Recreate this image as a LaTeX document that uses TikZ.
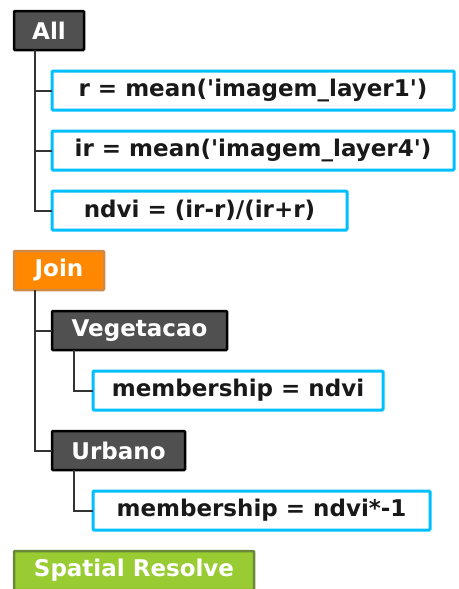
\documentclass[tikz,border=0pt]{standalone}
\usepackage{fontspec}
\setmainfont{DejaVu Sans}
\usetikzlibrary{calc,positioning}
\definecolor{boxgray}{HTML}{505050}
\definecolor{calcblue}{HTML}{00BFFF}
\definecolor{joinorange}{HTML}{FF8800}
\definecolor{joinedge}{HTML}{D08A48}
\definecolor{resolvegreen}{HTML}{99CC33}
\definecolor{resolveedge}{HTML}{6A8838}

\begin{document}
\begin{tikzpicture}[
    x=1pt, y=1pt,
    every node/.style={font=\fontsize{23}{26}\selectfont\bfseries,
        inner xsep=12pt, inner ysep=0pt, minimum height=39pt,
        outer sep=0pt, rounded corners=1pt, anchor=north west},
    groupbox/.style={draw=black, line width=2.5pt, fill=boxgray, text=white},
    calcbox/.style={draw=calcblue, line width=3pt, fill=white, text=black!90},
    joinbox/.style={draw=joinedge, line width=2.5pt, fill=joinorange, text=white},
    resolvebox/.style={draw=resolveedge, line width=2.5pt, fill=resolvegreen, text=white},
    link/.style={draw=black!80, line width=2pt, rounded corners=0pt},
 ]
    \clip (0,0) rectangle (458,-589);

    \node[groupbox, minimum width=70pt] (all) at (14,-11) {All};
    \node[calcbox, minimum width=402pt,
        below right=21pt and 38pt of all.south west] (r)
        {r = mean(\textquotesingle imagem\_layer1\textquotesingle)};
    \node[calcbox, minimum width=402pt,
        below right=21pt and 0pt of r.south west] (ir)
        {ir = mean(\textquotesingle imagem\_layer4\textquotesingle)};
    \node[calcbox, minimum width=295pt,
        below right=21pt and 0pt of ir.south west] (ndvi)
        {ndvi = (ir-r)/(ir+r)};
    \draw[link] ($(all.south west)+(21pt,0)$) |- (r.west);
    \draw[link] ($(all.south west)+(21pt,0)$) |- (ir.west);
    \draw[link] ($(all.south west)+(21pt,0)$) |- (ndvi.west);

    \node[joinbox, minimum width=90pt,
        below right=21pt and -38pt of ndvi.south west] (join) {Join};
    \node[groupbox, minimum width=175pt,
        below right=21pt and 38pt of join.south west] (veg) {Vegetacao};
    \node[calcbox, minimum width=290pt,
        below right=21pt and 41pt of veg.south west] (memveg)
        {membership = ndvi};
    \node[groupbox, minimum width=133pt,
        below right=21pt and -41pt of memveg.south west] (urb) {Urbano};
    \node[calcbox, minimum width=337pt,
        below right=21pt and 41pt of urb.south west] (memurb)
        {membership = ndvi*-1};
    \draw[link] ($(join.south west)+(21pt,0)$) |- (veg.west);
    \draw[link] ($(join.south west)+(21pt,0)$) |- (urb.west);
    \draw[link] ($(veg.south west)+(22pt,0)$) |- (memveg.west);
    \draw[link] ($(urb.south west)+(22pt,0)$) |- (memurb.west);

    \node[resolvebox, minimum width=240pt,
        below right=21pt and -79pt of memurb.south west] (resolve)
        {Spatial Resolve};
\end{tikzpicture}
\end{document}
